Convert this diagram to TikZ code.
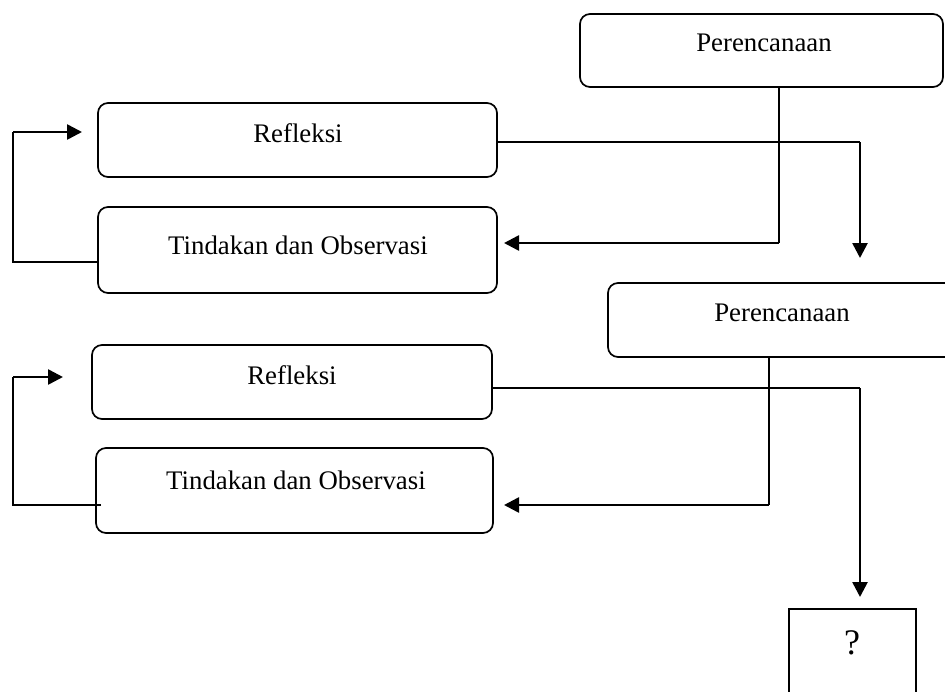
\documentclass[tikz,border=0pt]{standalone}
\usepackage{fontspec}
\setmainfont{Liberation Serif}
\usetikzlibrary{arrows.meta}
\begin{document}
\begin{tikzpicture}[x=1pt,y=-1pt,
  box/.style={draw, line width=1.7pt, rounded corners=10pt, inner sep=0pt},
  sqbox/.style={draw, line width=1.7pt, inner sep=0pt},
  lbl/.style={inner sep=0pt, font=\fontsize{26.8}{30}\selectfont},
  line/.style={line width=1.8pt},
  arr/.style={line width=2.6pt, -{Triangle[length=15pt,width=15pt]}}]
\useasboundingbox (0,0) rectangle (945,691);

% boxes
\node[box, minimum width=363pt, minimum height=73pt] (p1) at (761.5,50.5) {};
\node[lbl] (p1t) at (764,43) {Perencanaan};
\node[box, minimum width=399pt, minimum height=74pt] (r1) at (297.5,140) {};
\node[lbl] (r1t) at (298,133) {Refleksi};
\node[box, minimum width=399pt, minimum height=86pt] (t1) at (297.5,250) {};
\node[lbl] (t1t) at (298,245) {Tindakan dan Observasi};
\node[box, minimum width=352pt, minimum height=74pt] (p2) at (784,320) {};
\node[lbl] (p2t) at (782,313) {Perencanaan};
\node[box, minimum width=400pt, minimum height=74pt] (r2) at (292,382) {};
\node[lbl] (r2t) at (292,375) {Refleksi};
\node[box, minimum width=397pt, minimum height=85pt] (t2) at (294.5,490.5) {};
\node[lbl] (t2t) at (296,480) {Tindakan dan Observasi};
\node[sqbox, minimum width=127pt, minimum height=102pt] (q) at (852.5,660) {};
\node[lbl, font=\fontsize{36}{40}\selectfont] (qt) at (852,643) {?};

% connector coordinates
\coordinate (k1) at (779,243);
\coordinate (t1in) at (504,243);
\coordinate (k2) at (860,142);
\coordinate (p2in) at (860,258);
\coordinate (k3) at (13,262);
\coordinate (k4) at (13,132);
\coordinate (r1in) at (82,132);
\coordinate (k5) at (769,505);
\coordinate (t2in) at (504,505);
\coordinate (k6) at (860,388);
\coordinate (qin) at (860,597);
\coordinate (k7) at (13,505);
\coordinate (k8) at (13,377);
\coordinate (r2in) at (63,377);

% cycle 1
\draw[line] (p1.south -| k1) -- (k1);
\draw[arr] (k1) -- (t1in);
\draw[line] (r1.east |- k2) -- (k2);
\draw[arr] (k2) -- (p2in);
\draw[line] (t1.west |- k3) -- (k3) -- (k4);
\draw[arr] (k4) -- (r1in);

% cycle 2
\draw[line] (p2.south -| k5) -- (k5);
\draw[arr] (k5) -- (t2in);
\draw[line] (r2.east |- k6) -- (k6);
\draw[arr] (k6) -- (qin);
\draw[line] ([xshift=6pt]t2.west |- k7) -- (k7) -- (k8);
\draw[arr] (k8) -- (r2in);
\end{tikzpicture}
\end{document}
